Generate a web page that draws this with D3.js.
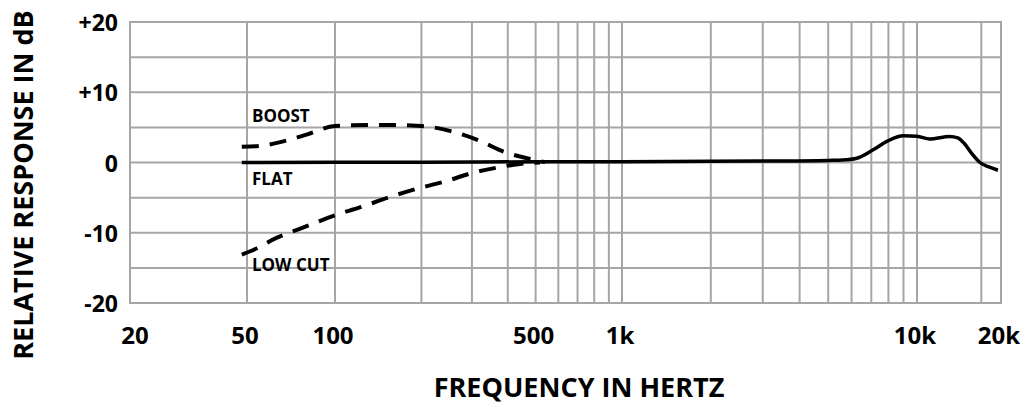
<!DOCTYPE html>
<html>
<head>
<meta charset="utf-8">
<script src="https://cdn.jsdelivr.net/npm/d3@7"></script>
<style>
  body { margin: 0; background: #fff; }
  text { font-family: "Open Sans", "Liberation Sans", sans-serif; font-weight: bold; fill: #000; }
</style>
</head>
<body>
<script>
"use strict";

// frequency (Hz) / relative response (dB)
var flat = [
    [48, 0], [100, 0.02], [200, 0.05], [500, 0.1], [1000, 0.12], [2000, 0.17],
    [3000, 0.2], [5000, 0.3], [5600, 0.35], [6250, 0.6], [7100, 1.8], [7900, 3.0],
    [9000, 3.8], [10000, 3.75], [11100, 3.35], [13100, 3.7], [14000, 3.5],
    [14700, 2.8], [15700, 1.3], [16800, 0], [18000, -0.6], [19500, -1.1]
];
var boost = [
    [48, 2.25], [55, 2.35], [65, 2.9], [81, 4.05], [100, 5.2], [143, 5.35],
    [200, 5.2], [251, 4.5], [315, 3.2], [390, 1.5], [478, 0.5], [540, 0.05]
];
var lowCut = [
    [48, -13.1], [51.6, -12.6], [63.3, -10.7], [78, -9.25], [100, -7.5],
    [122, -6.4], [153, -5.0], [190, -3.8], [242, -2.7], [297, -1.55],
    [370, -0.7], [441, -0.2], [518, 0]
];

var freqTicks = [20, 50, 100, 500, 1000, 10000, 20000];
var freqTickLabels = ["20", "50", "100", "500", "1k", "10k", "20k"];
var freqGrid = [50, 100, 200, 300, 400, 500, 600, 700, 800, 900, 1000,
    2000, 3000, 4000, 5000, 6000, 7000, 8000, 9000, 10000, 17000];
var dbTicks = [20, 10, 0, -10, -20];
var dbTickLabels = ["+20", "+10", "0", "-10", "-20"];
var dbGrid = [15, 10, 5, 0, -5, -10, -15];

var curveLabels = [
    { text: "BOOST", f: 52, db: 5.8 },
    { text: "FLAT", f: 52, db: -3.25 },
    { text: "LOW CUT", f: 52, db: -15.4 }
];

var width = 1020, height = 405;

var svg = d3.select("body").append("svg")
    .attr("width", width)
    .attr("height", height);

// the printed chart is drawn on a slightly uneven log paper
var x = d3.scaleLog()
    .domain([20, 50, 100, 1000, 10000, 20000])
    .range([130, 247, 335, 622, 917, 1001]);

var y = d3.scaleLinear()
    .domain([-20, 20])
    .range([303, 22]);

var grid = svg.append("g")
    .attr("stroke", "#a6a6a6")
    .attr("stroke-width", 2)
    .attr("fill", "none");

grid.selectAll("line.v")
    .data(freqGrid)
    .enter().append("line")
    .attr("class", "v")
    .attr("x1", function (d) { return x(d); })
    .attr("x2", function (d) { return x(d); })
    .attr("y1", y(20))
    .attr("y2", y(-20));

grid.selectAll("line.h")
    .data(dbGrid)
    .enter().append("line")
    .attr("class", "h")
    .attr("x1", x(20))
    .attr("x2", x(20000))
    .attr("y1", function (d) { return y(d); })
    .attr("y2", function (d) { return y(d); });

grid.append("rect")
    .attr("x", x(20))
    .attr("y", y(20))
    .attr("width", x(20000) - x(20))
    .attr("height", y(-20) - y(20));

// tick labels
svg.append("g")
    .selectAll("text")
    .data(dbTicks)
    .enter().append("text")
    .attr("x", x(20) - 12)
    .attr("y", function (d) { return y(d) + 9; })
    .attr("text-anchor", "end")
    .style("font-size", "23px")
    .text(function (d, i) { return dbTickLabels[i]; });

svg.append("g")
    .selectAll("text")
    .data(freqTicks)
    .enter().append("text")
    .attr("x", function (d, i) { return x(d) + (i === 0 ? 5 : -2); })
    .attr("y", 344)
    .attr("text-anchor", "middle")
    .style("font-size", "24px")
    .text(function (d, i) { return freqTickLabels[i]; });

// axis titles
svg.append("text")
    .attr("x", 579)
    .attr("y", 397)
    .attr("text-anchor", "middle")
    .style("font-size", "27px")
    .text("FREQUENCY IN HERTZ");

svg.append("text")
    .attr("transform", "translate(33,185) rotate(-90)")
    .attr("text-anchor", "middle")
    .style("font-size", "27px")
    .text("RELATIVE RESPONSE IN dB");

// response curves
var line = d3.line()
    .x(function (d) { return x(d[0]); })
    .y(function (d) { return y(d[1]); })
    .curve(d3.curveMonotoneX);

svg.append("path")
    .datum(boost)
    .attr("d", line)
    .attr("fill", "none")
    .attr("stroke", "#000")
    .attr("stroke-width", 4)
    .attr("stroke-dasharray", "17,11");

svg.append("path")
    .datum(lowCut)
    .attr("d", line)
    .attr("fill", "none")
    .attr("stroke", "#000")
    .attr("stroke-width", 4)
    .attr("stroke-dasharray", "17,11");

svg.append("path")
    .datum(flat)
    .attr("d", line)
    .attr("fill", "none")
    .attr("stroke", "#000")
    .attr("stroke-width", 3.5)
    .attr("stroke-linejoin", "round");

svg.append("g")
    .selectAll("text")
    .data(curveLabels)
    .enter().append("text")
    .attr("x", function (d) { return x(d.f); })
    .attr("y", function (d) { return y(d.db); })
    .style("font-size", "17px")
    .text(function (d) { return d.text; });
</script>
</body>
</html>
